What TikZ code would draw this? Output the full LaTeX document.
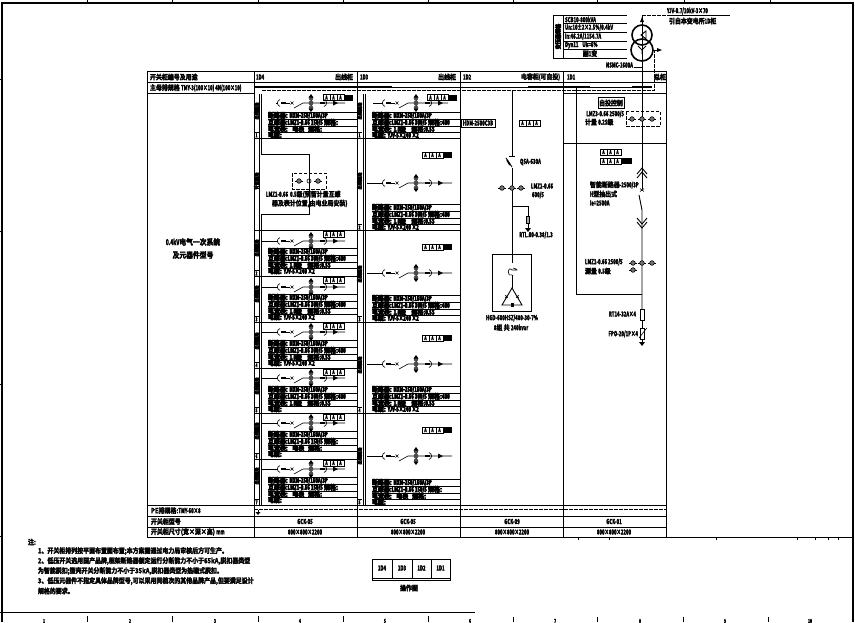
\documentclass[tikz,border=0pt]{standalone}
\usepackage{fontspec}
\setmainfont{Noto Sans CJK SC}[UprightFont=* Bold,FakeBold=3.5,FakeStretch=0.85]
\newfontfamily\ltn{Noto Sans CJK SC}[UprightFont=* Bold,FakeBold=3,FakeStretch=0.62]
\newfontfamily\hv{Noto Sans CJK SC}[UprightFont=* Bold,FakeBold=8,FakeStretch=0.85]
\newfontfamily\hvl{Noto Sans CJK SC}[UprightFont=* Bold,FakeBold=7,FakeStretch=0.62]
\newcommand{\fsz}[1]{\fontsize{#1}{#1}\selectfont}
\tikzset{
  x=1pt,y=-1pt,
  ln/.style={line width=0.9pt,black},
  thn/.style={line width=0.6pt,black},
  thk/.style={line width=1.3pt,black},
  dsh/.style={line width=0.7pt,black,dash pattern=on 3.5pt off 1.5pt},
  tx/.style={inner sep=0pt,outer sep=0pt,font=\fsz{7},text=black},
  txw/.style={tx,anchor=west},
  txe/.style={tx,anchor=east},
  tbt/.style={txw,font=\fsz{7}\hv},
  lat/.style={tx,font=\fsz{7}\ltn},
  latw/.style={lat,anchor=west},
  late/.style={lat,anchor=east},
}
\newcommand{\ctsym}[2]{%
  \draw[thn] (#1-4,#2)--(#1+4,#2);
  \draw[thn,fill=black!55] (#1,#2) circle (2.3pt);}
\newcommand{\branch}[4]{%
  \begin{scope}[xshift=#2pt,yshift=-#3pt]
    \draw[thn] (#1-#2,0)--(278,0);
    \draw[thn] (280,-3.5) .. controls (276.5,-2) and (276.5,2) .. (280,3.5);
    \draw[line width=1.5pt] (281,0)--(286,0);
    \draw[thn] (286,0)--(290,0);
    \draw[thn] (290.5,-1.5)--(293.5,1.5) (293.5,-1.5)--(290.5,1.5);
    \draw[thn] (294,5)--(303,0)--(#4-#2,0);
    \draw[ln] (311,-8)--(311,8);
    \fill[black!70] (311,0) circle (2.4pt) (311,-4.5) circle (2.2pt) (311,4.5) circle (2.2pt);
    \fill (311,-9)--(308.5,-5.5)--(313.5,-5.5)--cycle (311,9)--(308.5,5.5)--(313.5,5.5)--cycle;
    \draw[line width=1.5pt] (320,0)--(325,0);
    \draw[thn] (324,-3.5) .. controls (327.5,-2) and (327.5,2) .. (324,3.5);
    \fill (333,-2.5)--(338,0)--(333,2.5)--cycle;
  \end{scope}}
\newcommand{\alab}[4]{%
  \foreach \k in {1,...,#3}{%
    \draw[thn] (#1+\k*7-7,#2-3) rectangle (#1+\k*7,#2+3);
    \node[tx,font=\fsz{5.5}\ltn] at (#1+\k*7-3.5,#2) {A};}
  \ifnum#4>0 \fill (#1+#3*7,#2-3) rectangle (#1+#3*7+#4,#2+3);\fi}
\newcommand{\infotbl}[7]{%
  \draw[thn] (#1,#2)--(#3,#2) (#1,#2+7)--(#3,#2+7) (#1,#2+14)--(#3,#2+14) (#1,#2+20)--(#3,#2+20);
  \node[tbt] at (#1,#2+3.5) {#4};
  \node[tbt] at (#1,#2+10.5) {#5};
  \node[tbt] at (#1,#2+17) {#6};
  \node[tbt] at (#1,#2+23) {#7};}
\newcommand{\strip}[4]{%
  \node[tx,font=\fsz{5}\hv,rotate=90] at (#1+2.5,#2) {出线回路};
  \draw[ln] (#1,#3-5.5)--(#1+5,#3-5.5);
  \node[tx,font=\fsz{5.5}\ltn] at (#1+2.5,#3-2.6) {#4};}
\newcommand{\tA}{断路器: {\hvl NXM-250/160A/3P}}
\newcommand{\tB}{互感器:{\hvl LMZ1-0.66 150/5} 规格:}
\newcommand{\tC}{电流表: \ \ 电表 \ \ 规格:}
\newcommand{\tD}{电缆:}
\newcommand{\tE}{互感器:{\hvl LMZ1-0.66 300/5} 规格:{\hvl 400}}
\newcommand{\tF}{电流表: {\hvl 1.0}级 \ \ \ 规格:{\hvl 0.5S}}
\newcommand{\tG}{电缆: {\hvl YJV-5×240 ×2}}
\begin{document}
\begin{tikzpicture}
\useasboundingbox (0,0) rectangle (855,622);
\fill[white] (0,0) rectangle (855,622);
% ---- drawing frame
\draw[thk] (2,622)--(2,3)--(853,3)--(853,622);
\draw[line width=1.6pt] (0,612.5)--(475,612.5);
\foreach \x in {87,172,258,343,428,513,597,684,770}{
  \draw[ln] (\x,0)--(\x,3);}
\foreach \x in {87,172,258,343,428}{\draw[ln] (\x,616)--(\x,622);}
\foreach \x in {513,597,683,768}{\draw[ln] (\x,617)--(\x,622);}
\foreach \y in {79,231,384,536}{\draw[thn] (0,\y)--(2,\y);}
\foreach \n/\x in {1/44,2/130,3/215,4/300,5/385,6/470,7/555,8/640,9/725,10/810}{
  \node[tx,font=\fsz{5.5}\ltn] at (\x,621) {\n};}
\draw[thn] (666,537)--(853,537);
\foreach \x in {578,609,716,797,815,828,838}{\draw[thn] (\x,537)--(\x,540);}
% ---- main table
\draw[ln] (147,71.5) rectangle (666,537);
\draw[ln] (147,82.5)--(666,82.5);
\draw[ln] (147,93.5)--(254,93.5) (563,93.5)--(666,93.5);
\draw[ln] (147,505)--(666,505) (147,516)--(666,516) (147,527)--(666,527);
\foreach \x in {254,357,460,563}{\draw[ln] (\x,71.5)--(\x,537);}
% headers
\node[txw] (hdA) at (150,77) {开关柜编号及用途};
\node[txw] (hdB) at (150,88) {主母排规格 {\ltn TMY-3(100×10) 4N(100×10)}};
\foreach \x/\t in {256/1D4,360/1D3,463/1D2,567/1D1}{\node[latw] at (\x,77) {\t};}
\node[txe] at (353,77) {出线柜};
\node[txe] at (456,77) {出线柜};
\node[txe] at (560,77) {电容柜{\ltn (}可自投{\ltn )}};
\node[txe] at (666,77) {总柜};
\node[tx,font=\fsz{8}] (sysA) at (193,242) {{\ltn 0.4kV}电气一次系统};
\node[tx,font=\fsz{8}] (sysB) at (193,255) {及元器件型号};
\node[txw] (pe) at (151,510.5) {PE排规格:{\ltn TMY-60×8}};
\node[txw] (mdl) at (151,521.5) {开关柜型号};
\node[txw] (sz) at (151,532) {开关柜尺寸(宽×深×高) {\ltn mm}};
\foreach \c/\x/\m in {a/305/05,b/408/05,c/512/09,d/614/01}{
  \node[lat] (m\c) at (\x,521.5) {GCK-\m};
  \node[lat] (s\c) at (\x,532) {800×800×2200};}
% ---- busbars
\draw[ln] (254,87)--(652,87);
\draw[thk] (254,87)--(392,87) (528,87)--(590,87) (632,87)--(652,87);
\draw[dsh] (262,90.5)--(654,90.5)--(654,50);
\draw[dsh] (254,509.5)--(666,509.5);
\draw[thn] (258,509.5)--(258,513);
\fill (255.5,512)--(260.5,512)--(258,515)--cycle;
% ---- cubicle 1 strips, rows
\draw[ln] (259,94)--(259,505);
\draw[ln] (261.5,94)--(261.5,154)--(309,154)--(309,214)--(261.5,214)--(261.5,505);
\foreach \y in {138,230,276,322,368,413,459}{\draw[ln] (254,\y)--(357,\y);}
% ---- cubicle 2 strips, rows
\draw[ln] (363,94)--(363,505);
\draw[ln] (365.5,94)--(365.5,505);
\foreach \y in {138,230,322,413}{\draw[ln] (357,\y)--(460,\y);}
\strip{254}{111}{138}{1}
\node[tx,font=\fsz{5}\hv,rotate=90] at (256.5,181) {计量回路};
\foreach \c/\r/\n in {248/276/2,294/322/3,341/368/4,386/413/5,431/459/6,476/505/7}{
  \strip{254}{\c}{\r}{\n}}
\strip{357}{111}{138}{1}
\foreach \c/\r/\n in {181/230/2,274/322/3,365/413/4,456/505/5}{
  \strip{357}{\c}{\r}{\n}}
% cubicle 1 branches
\branch{276}{0}{103}{345}
\foreach \y in {241,287,332,378,423,469}{\branch{262}{0}{\y}{345}}
\alab{323}{97.5}{3}{9}
\foreach \y in {234,280,326,372,417,463}{\alab{323}{\y}{3}{0}}
\infotbl{268}{112}{357}{\tA}{\tB}{\tC}{\tD}
\infotbl{268}{248}{357}{\tA}{\tE}{\tF}{\tG}
\infotbl{268}{294}{357}{\tA}{\tE}{\tF}{\tG}
\infotbl{268}{340}{357}{\tA}{\tE}{\tF}{\tG}
\infotbl{268}{386}{357}{\tA}{\tE}{\tF}{\tD}
\infotbl{268}{431}{357}{\tA}{\tB}{\tC}{\tD}
\infotbl{268}{477}{357}{\tA}{\tB}{\tC}{\tD}
% metering in cubicle 1
\draw[dsh] (292,173) rectangle (326,189);
\ctsym{299}{181}\ctsym{318}{181}
\draw[thn] (309,181) circle (2pt);
\node[txw] (mA) at (266,194.5) {{\ltn LMZ1-0.66 \ 0.5}级(预留计量互感};
\node[txw] (mB) at (272,203.5) {器及表计位置,由电业局安装)};
% cubicle 2 branches
\branch{373}{105}{103}{448}
\foreach \y in {183,273,364,456}{\branch{367}{105}{\y}{452}}
\alab{427}{97.5}{3}{9}
\foreach \y in {155,247,338,430}{\alab{422}{\y}{3}{9}}
\infotbl{372}{112}{460}{\tA}{\tE}{\tF}{\tG}
\infotbl{372}{204}{460}{\tA}{\tE}{\tF}{\tG}
\infotbl{372}{295}{460}{\tA}{\tE}{\tF}{\tG}
\infotbl{372}{386}{460}{\tA}{\tE}{\tF}{\tG}
\infotbl{372}{479}{460}{\tA}{\tB}{\tC}{\tD}
% ---- capacitor cubicle
\draw[ln] (512,90)--(512,156);
\draw[ln] (509,156)--(515,156);
\draw[ln] (506,158)--(512,167);
\draw[line width=1.6pt] (507,160)--(510,165);
\draw[ln] (512,168)--(512,263);
\node[latw] (qs) at (520,162) {QSA-630A};
\foreach \x in {502,512,521}{\ctsym{\x}{188}}
\node[latw] (ctA) at (531,186) {LMZ1-0.66};
\node[latw] (ctB) at (532,195) {600/5};
\draw[thn] (512,206)--(528,206)--(528,230);
\draw[thn,fill=black!35] (526.5,216) rectangle (529.5,223);
\fill (525,228)--(531,228)--(528,232)--cycle;
\node[lat] (rt) at (536,235) {RTL.00-0.38/1.3};
\draw[ln] (492,254) rectangle (531,311);
\draw[thn] (512,270) .. controls (507,265) and (507,278) .. (512,275);
\draw[thn] (513,268) .. controls (516,268) and (517,270) .. (517,270)--(512,270);
\draw[ln] (512,275)--(512,288);
\draw[ln] (512,288)--(502,305)--(522,305)--cycle;
\draw[thn] (505,295)--(508,298) (508,295)--(505,298) (516,295)--(519,298) (519,295)--(516,298);
\fill (510.5,303) rectangle (513.5,307);
\node[lat] (capA) at (512,318) {HGD-600HSZ/480-30-7\%};
\node[tx] (capB) at (511,327.5) {{\ltn 8}组 共 {\ltn 240kvar}};
\alab{519}{123}{3}{0}
\draw[thn] (461,119.5) rectangle (495,127);
\node[lat] (hgd) at (478,123) {HDM-2500C3B};
% ---- incoming cubicle
\draw[ln] (563,143)--(666,143);
\draw[ln] (576,87)--(576,294)--(642,294);
\draw[ln] (642,59)--(642,189);
\draw[ln] (637,174)--(642,168)--(647,174) (637,178)--(642,172)--(647,178);
\draw[thn] (640,188.5)--(644,191.5) (644,188.5)--(640,191.5);
\draw[ln] (639,195)--(642,210)--(642,309);
\draw[ln] (637,218)--(642,224)--(647,218) (637,222)--(642,228)--(647,222);
\draw[thn] (598,97.5) rectangle (624,108);
\node[tx] (zt) at (611,103) {自投控制};
\node[late] (ctC) at (624,114) {LMZ3-0.66 2500/5};
\node[txw] (ctD) at (585,122) {计量 {\ltn 0.2S}级};
\draw[dsh] (626,111) rectangle (660,126);
\foreach \x in {632,642,652}{\ctsym{\x}{119}}
\alab{600}{152}{3}{0}
\alab{600}{161}{3}{11}
\node[txw] (brA) at (590,185) {智能断路器{\ltn -2500/3P}};
\node[txw] (brB) at (590,194) {{\ltn H}型抽出式};
\node[latw] (brC) at (590,203) {Ie=2500A};
\foreach \x in {633,642,652}{\ctsym{\x}{263}}
\ctsym{633}{270}
\node[latw] (ctE) at (585,262) {LMZ1-0.66 2500/5};
\node[txw] (ctF) at (585,271) {测量 {\ltn 0.5}级};
\draw[ln] (640,309) rectangle (644,320);
\draw[ln] (642,320)--(642,328);
\draw[ln] (640,328) rectangle (644,339);
\draw[thn] (639,338)--(646,329)--(647,328);
\draw[ln] (642,339)--(642,343);
\fill (639,342)--(645,342)--(642,346)--cycle;
\node[late] (rtB) at (636,314) {RT14-32A×4};
\node[late] (fpo) at (638,334) {FPO-20/1P×4};
% ---- transformer
\draw[ln] (553,15.5)--(627,15.5) (553,58)--(627,58) (553,15.5)--(553,58) (563,15.5)--(563,58);
\foreach \y in {23,32,41,49}{\draw[ln] (563,\y)--(627,\y);}
\node[tx,font=\fsz{6}\hv,rotate=90] at (558,36.5) {变压器规格};
\node[latw] (tA) at (565,19.5) {SCB10-800kVA};
\node[latw] (tB) at (565,27.5) {Un:10±2×2.5\%/0.4kV};
\node[latw] (tC) at (565,36.5) {In:46.2A/1154.7A};
\node[latw] (tD) at (565,45) {Dyn11 \ \ \ Uk=6\%};
\node[tx] (tE) at (590,53.5) {副{\ltn 1}变};
\node[latw] (tF) at (606,65) {NSMC-1600A};
\draw[ln] (634,67)--(642,67);
\draw[line width=1.6pt] (642,35) circle (10pt);
\draw[line width=1.6pt] (642,50) circle (11pt);
\draw[ln] (642,16)--(642,60);
\fill (640,22)--(644,22)--(642,17)--cycle;
\draw[ln] (646,31)--(641,35)--(646,39)--cycle;
\draw[ln] (638,46)--(642,50)--(646,46) (642,50)--(642,54);
\draw[dsh] (642,15.5)--(667,15.5);
\draw[thn] (667,15.5)--(730,15.5);
\draw[dsh] (652,50)--(656,50);
\draw[thn] (656,50)--(660,50);
\fill (657,48)--(662,50)--(657,52)--cycle;
\node[latw] (cab) at (667,11) {YJV-0.7/10kV-3×70};
\node[txw] (cabB) at (669,21) {引自本变电所{\ltn 1D}柜};
% ---- notes
\node[txw] (nt) at (28,542) {注:};
\node[txw] (n1) at (38,551) {1、开关柜排列按平面布置图布置;本方案需通过电力局审核后方可生产。};
\node[txw] (n2) at (38,561) {2、低压开关选用国产品牌,框架断路器额定运行分断能力不小于65kA,脱扣器类型};
\node[txw] (n3) at (38,571) {为智能脱扣;塑壳开关分断能力不小于35kA,脱扣器类型为热磁式脱扣。};
\node[txw] (n4) at (38,581) {3、低压元器件不指定具体品牌型号,可以采用同档次的其他品牌产品,但要满足设计};
\node[txw] (n5) at (38,591) {规格的要求。};
% ---- operating diagram
\draw[ln] (372,559) rectangle (450,580);
\draw[ln] (372,578)--(450,578);
\foreach \x in {392,412,431}{\draw[ln] (\x,559)--(\x,578);}
\foreach \x/\t in {382/1D4,402/1D3,421.5/1D2,440.5/1D1}{
  \node[lat] at (\x,568) {\t};}
\node[tx] (op) at (409,588) {操作图};
\end{tikzpicture}
\end{document}
